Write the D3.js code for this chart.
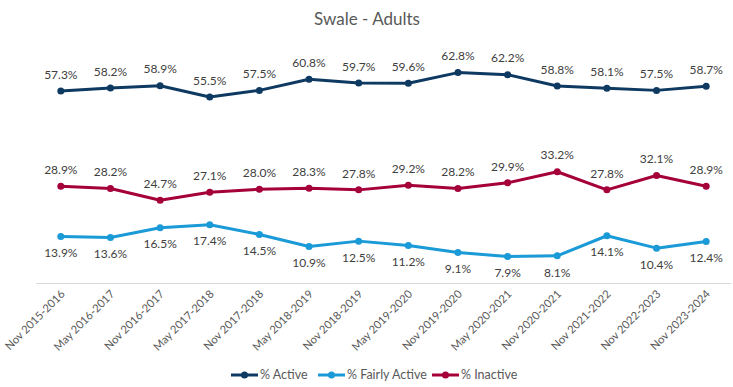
<!DOCTYPE html>
<html><head><meta charset="utf-8">
<script src="https://cdn.jsdelivr.net/npm/d3@7"></script>
<style>body{margin:0;background:#fff;} text{font-family:Lato,"Open Sans",Arial,sans-serif;}</style>
</head><body><svg id="c" width="733" height="387"></svg>
<script>
const categories = ["Nov 2015-2016","May 2016-2017","Nov 2016-2017","May 2017-2018","Nov 2017-2018","May 2018-2019","Nov 2018-2019","May 2019-2020","Nov 2019-2020","May 2020-2021","Nov 2020-2021","Nov 2021-2022","Nov 2022-2023","Nov 2023-2024"];
const active = [57.3,58.2,58.9,55.5,57.5,60.8,59.7,59.6,62.8,62.2,58.8,58.1,57.5,58.7];
const fairlyActive = [13.9,13.6,16.5,17.4,14.5,10.9,12.5,11.2,9.1,7.9,8.1,14.1,10.4,12.4];
const inactive = [28.9,28.2,24.7,27.1,28.0,28.3,27.8,29.2,28.2,29.9,33.2,27.8,32.1,28.9];
const seriesNames = ["% Active","% Fairly Active","% Inactive"];
const colors = ["#0E3A62","#1A9AD6","#A5003A"];

const svg = d3.select("#c");
const x = d3.scaleBand().domain(categories).range([36,731]);
const y = d3.scaleLinear().domain([0,70]).range([283,48.5]);
const cx = d => x(d) + x.bandwidth()/2;

svg.append("text").attr("x",367).attr("y",25).attr("text-anchor","middle")
  .attr("font-size",17).attr("fill","#595959").text("Swale - Adults");

svg.append("line").attr("x1",36).attr("x2",731).attr("y1",283.5).attr("y2",283.5)
  .attr("stroke","#d9d9d9").attr("stroke-width",1);

categories.forEach(c=>{
  svg.append("text").attr("transform",`translate(${cx(c)+2},${292}) rotate(-45)`)
    .attr("text-anchor","end").attr("dy","0.35em").attr("font-size",11.2).attr("fill","#595959").text(c);
});

const series = [active, fairlyActive, inactive];
const labelPos = [-1,1,-1];
series.forEach((vals,i)=>{
  const pts = categories.map((c,j)=>[cx(c), y(vals[j])]);
  svg.append("path").attr("d", d3.line()(pts)).attr("fill","none")
    .attr("stroke",colors[i]).attr("stroke-width",3).attr("stroke-linejoin","round").attr("stroke-linecap","round");
  pts.forEach((p,j)=>{
    svg.append("circle").attr("cx",p[0]).attr("cy",p[1]).attr("r",3.5).attr("fill",colors[i]);
    svg.append("text").attr("x",p[0]).attr("y",p[1]+labelPos[i]*16.5).attr("dy","0.35em")
      .attr("text-anchor","middle").attr("font-size",12).attr("fill","#404040").text(vals[j].toFixed(1)+"%");
  });
});

const legendX = [231,318,432];
seriesNames.forEach((n,i)=>{
  const g = svg.append("g").attr("transform",`translate(${legendX[i]},375)`);
  g.append("line").attr("x1",0).attr("x2",27).attr("stroke",colors[i]).attr("stroke-width",3);
  g.append("circle").attr("cx",13.5).attr("r",3.5).attr("fill",colors[i]);
  g.append("text").attr("x",29).attr("dy","0.35em").attr("font-size",12.5).attr("fill","#595959").text(n);
});
</script></body></html>
